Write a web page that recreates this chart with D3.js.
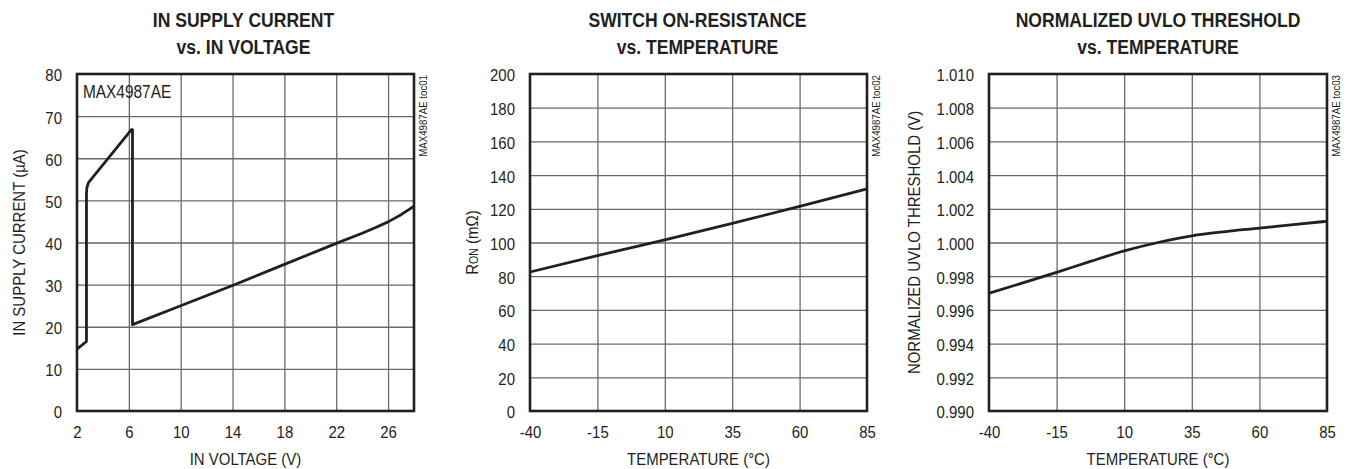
<!DOCTYPE html>
<html><head><meta charset="utf-8">
<script src="https://cdn.jsdelivr.net/npm/d3@7"></script>
<style>
html,body{margin:0;padding:0;background:#fff;}
svg text{font-family:"Liberation Sans",Arial,Helvetica,sans-serif;fill:#231f20;}
</style></head><body>
<svg id="c" width="1350" height="469"></svg>
<script>
// ---------- data ----------
const p1Title = ["IN SUPPLY CURRENT", "vs. IN VOLTAGE"];
const p1XLabel = "IN VOLTAGE (V)";
const p1YLabel = "IN SUPPLY CURRENT (µA)";
const p1Tag = "MAX4987AE toc01";
const p1Note = "MAX4987AE";
const p1XTicks = [2, 6, 10, 14, 18, 22, 26];
const p1YTicks = [0, 10, 20, 30, 40, 50, 60, 70, 80];
const p1Voltage = [2.0, 2.73, 2.73, 2.76, 2.9, 6.2, 6.28, 6.28, 10, 14, 18, 22, 24, 25, 26, 27, 28];
const p1Current = [14.7, 16.5, 51.5, 53.0, 54.3, 66.8, 66.8, 20.5, 25.0, 29.8, 34.8, 39.8, 42.2, 43.5, 44.9, 46.6, 48.6];

const p2Title = ["SWITCH ON-RESISTANCE", "vs. TEMPERATURE"];
const p2XLabel = "TEMPERATURE (°C)";
const p2Tag = "MAX4987AE toc02";
const tempTicks = [-40, -15, 10, 35, 60, 85];
const p2YTicks = [0, 20, 40, 60, 80, 100, 120, 140, 160, 180, 200];
const p2Temp = [-40, -15, 10, 35, 60, 85];
const p2Ron = [82.5, 92.2, 101.6, 111.4, 121.4, 131.8];

const p3Title = ["NORMALIZED UVLO THRESHOLD", "vs. TEMPERATURE"];
const p3XLabel = "TEMPERATURE (°C)";
const p3YLabel = "NORMALIZED UVLO THRESHOLD (V)";
const p3Tag = "MAX4987AE toc03";
const p3YTicks = [0.990, 0.992, 0.994, 0.996, 0.998, 1.000, 1.002, 1.004, 1.006, 1.008, 1.010];
const p3Temp = [-40, -27.5, -15, -2.5, 10, 22.5, 35, 47.5, 60, 72.5, 85];
const p3Uvlo = [0.99699, 0.99760, 0.99823, 0.99888, 0.99950, 1.00000, 1.00040, 1.00065, 1.00085, 1.00106, 1.00126];

// ---------- drawing ----------
const INK = "#231f20";
const TOP = 74, BOTTOM = 411;
const svg = d3.select("#c");
const plain = d => String(d);

function panel(o) {
  const g = svg.append("g");
  const x = d3.scaleLinear().domain(o.xDomain).range([o.left, o.right]);
  const y = d3.scaleLinear().domain(o.yDomain).range([BOTTOM, TOP]);
  const h = BOTTOM - TOP, w = o.right - o.left;

  // grid
  const gx = o.xTicks.filter(v => v !== o.xDomain[0] && v !== o.xDomain[1]);
  const gy = o.yTicks.filter(v => v !== o.yDomain[0] && v !== o.yDomain[1]);
  const grid = g.append("g");
  grid.append("g").attr("transform", `translate(0,${BOTTOM})`)
    .call(d3.axisBottom(x).tickValues(gx).tickSize(-h).tickFormat(""))
    .call(s => s.select(".domain").remove());
  grid.append("g").attr("transform", `translate(${o.left},0)`)
    .call(d3.axisLeft(y).tickValues(gy).tickSize(-w).tickFormat(""))
    .call(s => s.select(".domain").remove());
  grid.selectAll("line").attr("stroke", "#6a6a6a").attr("stroke-width", 1.3);

  // tick labels
  const xa = g.append("g").attr("transform", `translate(0,${BOTTOM})`)
    .call(d3.axisBottom(x).tickValues(o.xTicks).tickSize(0).tickFormat(o.xFormat || plain));
  xa.select(".domain").remove();
  xa.selectAll("text").attr("y", 27).attr("dy", null)
    .attr("font-size", 17).attr("fill", INK).attr("font-family", null);
  const ya = g.append("g").attr("transform", `translate(${o.left},0)`)
    .call(d3.axisLeft(y).tickValues(o.yTicks).tickSize(0).tickFormat(o.yFormat || plain));
  ya.select(".domain").remove();
  ya.selectAll("text").attr("x", -15).attr("dy", "0.41em")
    .attr("font-size", 17).attr("fill", INK).attr("font-family", null);

  // data line
  const pts = o.xs.map((v, i) => [v, o.ys[i]]);
  g.append("path").datum(pts)
    .attr("fill", "none").attr("stroke", INK).attr("stroke-width", 2.8)
    .attr("stroke-linejoin", "round")
    .attr("d", d3.line().x(d => x(d[0])).y(d => y(d[1])).curve(o.curve || d3.curveLinear));

  // frame
  g.append("rect").attr("x", o.left).attr("y", TOP).attr("width", w).attr("height", h)
    .attr("fill", "none").attr("stroke", INK).attr("stroke-width", 2.6);

  // titles
  o.title.forEach((t, i) => {
    g.append("text").attr("class", "ttl").attr("x", o.titleX).attr("y", 27 + i * 27)
      .attr("text-anchor", "middle").attr("font-weight", "bold").attr("font-size", 19.5).text(t);
  });
  // x label
  g.append("text").attr("x", (o.left + o.right) / 2).attr("y", 465)
    .attr("text-anchor", "middle").attr("font-size", 17).text(o.xLabel);
  // y label
  const yl = g.append("text")
    .attr("transform", `translate(${o.yLabelX},${(TOP + BOTTOM) / 2}) rotate(-90)`)
    .attr("text-anchor", "middle").attr("font-size", 17);
  if (o.yLabelParts) {
    o.yLabelParts.forEach(p => yl.append("tspan").attr("font-size", p.size).text(p.text));
  } else yl.text(o.yLabel);
  // tag
  g.append("text").attr("transform", `translate(${o.right + 12.5},${TOP + 1}) rotate(-90)`)
    .attr("text-anchor", "end").attr("font-size", 11).text(o.tag);
  if (o.note) {
    g.append("text").attr("x", o.left + 6).attr("y", 98).attr("font-size", 17.5).text(o.note);
  }
}

panel({ left: 77, right: 414, xDomain: [2, 28], yDomain: [0, 80],
  xTicks: p1XTicks, yTicks: p1YTicks, xs: p1Voltage, ys: p1Current,
  title: p1Title, titleX: 243.5, xLabel: p1XLabel, yLabel: p1YLabel, yLabelX: 25,
  tag: p1Tag, note: p1Note });

panel({ left: 530, right: 867, xDomain: [-40, 85], yDomain: [0, 200],
  xTicks: tempTicks, yTicks: p2YTicks, xs: p2Temp, ys: p2Ron,
  title: p2Title, titleX: 697.5, xLabel: p2XLabel, yLabelX: 478,
  yLabelParts: [{ text: "R", size: 17 }, { text: "ON", size: 12 }, { text: " (mΩ)", size: 17 }],
  tag: p2Tag });

panel({ left: 989, right: 1327, xDomain: [-40, 85], yDomain: [0.990, 1.010],
  xTicks: tempTicks, yTicks: p3YTicks, xs: p3Temp, ys: p3Uvlo, yFormat: d3.format(".3f"),
  curve: d3.curveMonotoneX,
  title: p3Title, titleX: 1158, xLabel: p3XLabel, yLabel: p3YLabel, yLabelX: 920,
  tag: p3Tag });

// condense glyphs to match the narrow typeface of the original
svg.selectAll("text").each(function () {
  const f = this.classList.contains("ttl") ? 0.9 : 0.88;
  const L = this.getComputedTextLength();
  if (L > 0) {
    this.setAttribute("textLength", (L * f).toFixed(2));
    this.setAttribute("lengthAdjust", "spacingAndGlyphs");
  }
});
</script>
</body></html>
